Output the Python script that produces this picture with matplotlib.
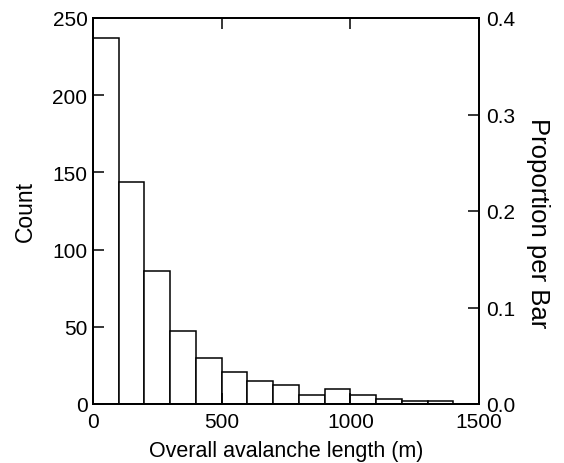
import matplotlib
matplotlib.use("Agg")
import matplotlib.pyplot as plt
import numpy as np

plt.rcParams['font.family'] = ['Liberation Sans', 'DejaVu Sans']

bin_edges = [0, 100, 200, 300, 400, 500, 600, 700, 800, 900, 1000, 1100, 1200, 1300, 1400]
counts = [237, 144, 86, 47, 30, 21, 15, 12, 6, 10, 6, 3, 2, 2]
x_ticks = [0, 500, 1000, 1500]
y_ticks = [0, 50, 100, 150, 200, 250]
prop_ticks = [0.0, 0.1, 0.2, 0.3, 0.4]

fig = plt.figure(figsize=(5.64, 4.64), dpi=100)
ax = fig.add_axes([93/564, 59/464, (479-93)/564, (405-19)/464])

lefts = bin_edges[:-1]
widths = np.diff(bin_edges)
ax.bar(lefts, counts, width=widths, align='edge', facecolor='white',
       edgecolor='black', linewidth=1.1)

ax.set_xlim(0, 1500)
ax.set_ylim(0, 250)
ax.set_xticks(x_ticks)
ax.set_yticks(y_ticks)
ax.set_xlabel('Overall avalanche length (m)', fontsize=15.5, labelpad=6)
ax.set_ylabel('Count', fontsize=16.5, labelpad=11)
ax.tick_params(direction='in', length=8, width=1.1, labelsize=15, pad=4,
               top=True, bottom=True, left=True, right=False)
ax.tick_params(axis='x', pad=6)
for s in ax.spines.values():
    s.set_linewidth(1.3)

ax2 = ax.twinx()
total = 625.0
ax2.set_ylim(0, 250/total)
ax2.set_yticks(prop_ticks)
ax2.set_yticklabels([f'{v:.1f}' for v in prop_ticks])
ax2.tick_params(direction='in', length=8, width=1.1, labelsize=15, pad=5)
ax2.set_ylabel('Proportion per Bar', fontsize=18.5, rotation=-90, labelpad=25)
ax2.yaxis.label.set_y(0.472)
for s in ax2.spines.values():
    s.set_linewidth(1.3)

fig.savefig('out.png', dpi=100)
